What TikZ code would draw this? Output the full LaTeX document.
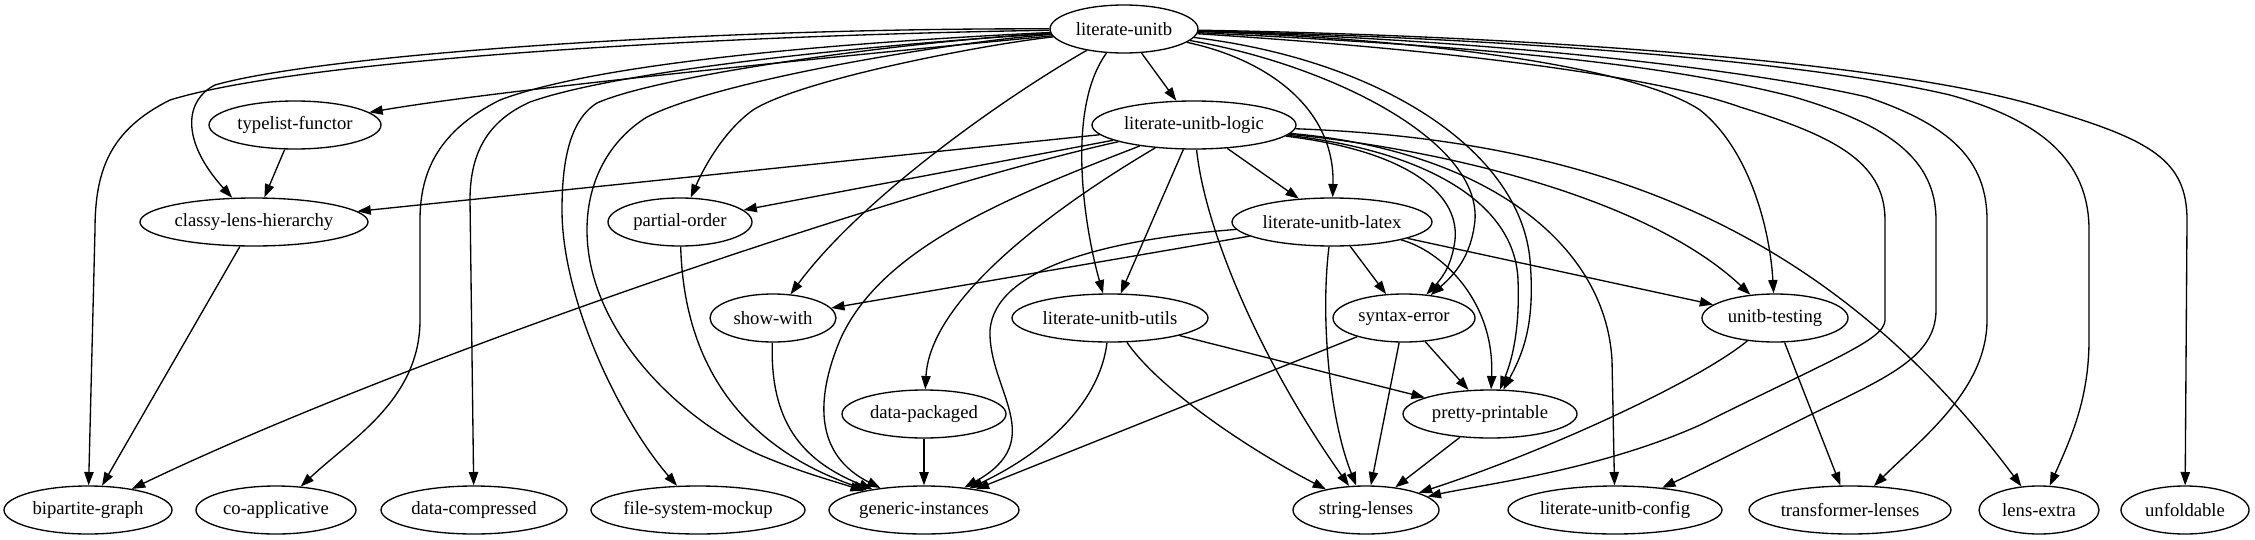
\documentclass[tikz,border=0pt]{standalone}
\usepackage{fontspec}
\setmainfont{Liberation Serif}
\usetikzlibrary{shapes.geometric,arrows.meta}
\tikzset{
  nd/.style={ellipse, draw, line width=1pt, inner sep=0pt, minimum height=36pt,
    minimum width=#1*0.75pt, font=\fontsize{14}{16}\selectfont},
  edg/.style={line width=1pt, -{Triangle[length=10pt,width=7pt]}},
}
\begin{document}
\begin{tikzpicture}[x=0.75pt,y=-0.75pt]
\useasboundingbox (0,0) rectangle (2255,539);
% nodes
\node[nd=148] (LU)  at (1124,29)  {literate-unitb};
\node[nd=172] (TF)  at (295,125)  {typelist-functor};
\node[nd=204] (LUL) at (1194,125) {literate-unitb-logic};
\node[nd=228] (CLH) at (254,222)  {classy-lens-hierarchy};
\node[nd=144] (PO)  at (680,222)  {partial-order};
\node[nd=200] (LUX) at (1332,222) {literate-unitb-latex};
\node[nd=126] (SW)  at (773,318)  {show-with};
\node[nd=196] (UTL) at (1110,318) {literate-unitb-utils};
\node[nd=142] (SE)  at (1404,318) {syntax-error};
\node[nd=146] (UT)  at (1775,318) {unitb-testing};
\node[nd=164] (DP)  at (924,414)  {data-packaged};
\node[nd=174] (PP)  at (1490,414) {pretty-printable};
\node[nd=168] (BG)  at (88,510)   {bipartite-graph};
\node[nd=160] (CA)  at (276,510)  {co-applicative};
\node[nd=186] (DC)  at (474,510)  {data-compressed};
\node[nd=214] (FSM) at (698,510)  {file-system-mockup};
\node[nd=190] (GI)  at (924,510)  {generic-instances};
\node[nd=146] (SL)  at (1366,510) {string-lenses};
\node[nd=214] (LUC) at (1615,510) {literate-unitb-config};
\node[nd=202] (TL)  at (1850,510) {transformer-lenses};
\node[nd=120] (LE)  at (2039,510) {lens-extra};
\node[nd=128] (UF)  at (2185,510) {unfoldable};
% literate-unitb
\draw[edg] (LU) .. controls (800,60) and (500,90) .. (TF);
\draw[edg] (LU) .. controls (700,28) and (320,55) .. (215,85) .. controls (185,100) and (180,140) .. (CLH);
\draw[edg] (LU) .. controls (700,36) and (300,60) .. (170,100) .. controls (110,130) and (95,170) .. (95,230) -- (BG);
\draw[edg] (LU) .. controls (850,42) and (600,62) .. (500,100) .. controls (440,130) and (420,170) .. (420,220) -- (420,320) .. controls (420,400) and (350,440) .. (CA);
\draw[edg] (LU) .. controls (870,45) and (620,70) .. (530,102) .. controls (490,120) and (470,150) .. (470,200) -- (DC);
\draw[edg] (LU) .. controls (900,42) and (660,75) .. (597,103) .. controls (570,120) and (562,160) .. (562,210) .. controls (562,300) and (620,420) .. (FSM);
\draw[edg] (LU) .. controls (950,42) and (720,80) .. (647,117) .. controls (610,140) and (587,180) .. (587,230) .. controls (587,330) and (680,420) .. (760,455) .. controls (800,472) and (830,480) .. (GI);
\draw[edg] (LU) .. controls (980,45) and (800,80) .. (753,110) .. controls (725,130) and (705,165) .. (PO);
\draw[edg] (LU) .. controls (1000,100) and (860,200) .. (SW);
\draw[edg] (LU) -- (LUL);
\draw[edg] (LU) .. controls (1065,110) and (1085,230) .. (UTL);
\draw[edg] (LU) .. controls (1270,60) and (1335,110) .. (LUX);
\draw[edg] (LU) .. controls (1330,65) and (1480,140) .. (1475,220) .. controls (1472,250) and (1460,270) .. (SE);
\draw[edg] (LU) .. controls (1380,60) and (1520,150) .. (1530,260) .. controls (1535,320) and (1525,350) .. (PP);
\draw[edg] (LU) .. controls (1450,40) and (1640,70) .. (1700,110) .. controls (1750,150) and (1770,230) .. (UT);
\draw[edg] (LU) .. controls (1450,50) and (1650,75) .. (1740,107) .. controls (1830,135) and (1885,160) .. (1885,220) -- (1885,320) .. controls (1885,340) and (1830,360) .. (1700,425) .. controls (1600,470) and (1480,485) .. (SL);
\draw[edg] (LU) .. controls (1450,45) and (1650,60) .. (1794,97) .. controls (1890,125) and (1936,160) .. (1936,220) -- (1936,310) .. controls (1936,360) and (1880,380) .. (1800,420) .. controls (1740,450) and (1700,470) .. (LUC);
\draw[edg] (LU) .. controls (1500,40) and (1750,70) .. (1867,97) .. controls (1950,125) and (1987,160) .. (1987,220) -- (1987,320) .. controls (1987,390) and (1920,440) .. (TL);
\draw[edg] (LU) .. controls (1500,38) and (1800,60) .. (1950,95) .. controls (2040,120) and (2089,160) .. (2089,230) -- (2089,340) .. controls (2089,400) and (2070,440) .. (LE);
\draw[edg] (LU) .. controls (1500,35) and (1900,60) .. (2050,110) .. controls (2150,140) and (2187,160) .. (2187,220) -- (UF);
% literate-unitb-logic
\draw[edg] (LUL) -- (CLH);
\draw[edg] (LUL) -- (PO);
\draw[edg] (LUL) .. controls (900,190) and (400,360) .. (BG);
\draw[edg] (LUL) .. controls (1000,200) and (880,250) .. (840,340) .. controls (815,400) and (815,455) .. (GI);
\draw[edg] (LUL) .. controls (1050,210) and (930,300) .. (DP);
\draw[edg] (LUL) -- (UTL);
\draw[edg] (LUL) .. controls (1205,230) and (1260,360) .. (SL);
\draw[edg] (LUL) -- (LUX);
\draw[edg] (LUL) .. controls (1400,150) and (1460,190) .. (1455,240) .. controls (1452,262) and (1445,275) .. (SE);
\draw[edg] (LUL) .. controls (1420,150) and (1515,200) .. (1518,280) .. controls (1520,330) and (1512,360) .. (PP);
\draw[edg] (LUL) .. controls (1450,150) and (1650,200) .. (UT);
\draw[edg] (LUL) .. controls (1480,150) and (1605,240) .. (1612,360) -- (LUC);
\draw[edg] (LUL) .. controls (1600,140) and (1830,230) .. (LE);
% literate-unitb-latex
\draw[edg] (LUX) -- (SW);
\draw[edg] (LUX) .. controls (1100,240) and (995,270) .. (990,330) .. controls (988,390) and (1050,440) .. (GI);
\draw[edg] (LUX) -- (SE);
\draw[edg] (LUX) .. controls (1440,250) and (1495,300) .. (PP);
\draw[edg] (LUX) .. controls (1320,320) and (1330,420) .. (SL);
\draw[edg] (LUX) -- (UT);
% others
\draw[edg] (TF) -- (CLH);
\draw[edg] (CLH) -- (BG);
\draw[edg] (PO) .. controls (685,400) and (780,460) .. (GI);
\draw[edg] (SW) .. controls (770,420) and (800,460) .. (GI);
\draw[edg] (DP) -- (GI);
\draw[edg] (UTL) .. controls (1100,400) and (1050,450) .. (GI);
\draw[edg] (UTL) .. controls (1160,390) and (1250,450) .. (SL);
\draw[edg] (UTL) -- (PP);
\draw[edg] (SE) -- (GI);
\draw[edg] (SE) -- (SL);
\draw[edg] (SE) -- (PP);
\draw[edg] (PP) -- (SL);
\draw[edg] (UT) .. controls (1700,380) and (1550,450) .. (SL);
\draw[edg] (UT) -- (TL);
\end{tikzpicture}
\end{document}
